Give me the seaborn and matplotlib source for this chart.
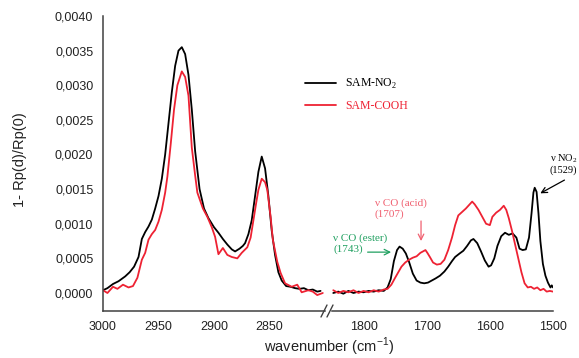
import numpy as np
import pandas as pd
import matplotlib
matplotlib.use("Agg")
import matplotlib.pyplot as plt
from matplotlib.lines import Line2D
from matplotlib.ticker import FuncFormatter, MultipleLocator
import seaborn as sns

# ---- data ----
wn_left_no2 = [3000, 2996, 2991, 2986, 2980, 2976, 2972, 2968, 2965, 2962, 2959, 2956, 2953, 2950,
               2947, 2944, 2941, 2938, 2935, 2932, 2929, 2926, 2923, 2920, 2917, 2913, 2909, 2905,
               2900, 2896, 2892, 2888, 2884, 2881, 2877, 2874, 2872, 2869, 2866, 2863, 2860, 2857,
               2854, 2851, 2848, 2845, 2842, 2839, 2835, 2831, 2827, 2823, 2819, 2815, 2811, 2807, 2804]
sig_left_no2 = [0.00004, 0.00007, 0.00013, 0.00017, 0.00024, 0.00030, 0.00038, 0.00052, 0.00078,
                0.00088, 0.00096, 0.00106, 0.00122, 0.00140, 0.00165, 0.00200, 0.00245, 0.00290,
                0.00328, 0.00350, 0.00355, 0.00345, 0.00315, 0.00265, 0.00205, 0.00150, 0.00122,
                0.00108, 0.00095, 0.00087, 0.00078, 0.00070, 0.00063, 0.00060, 0.00064, 0.00068,
                0.00072, 0.00085, 0.00105, 0.00140, 0.00175, 0.00197, 0.00180, 0.00140, 0.00090,
                0.00055, 0.00030, 0.00018, 0.00010, 0.00009, 0.00007, 0.00006, 0.00007, 0.00004,
                0.00005, 0.00002, 0.00003]

wn_left_cooh = [3000, 2996, 2991, 2987, 2982, 2977, 2973, 2969, 2965, 2962, 2959, 2956, 2953, 2950,
                2947, 2944, 2942, 2939, 2936, 2933, 2929, 2926, 2923, 2920, 2917, 2915, 2910, 2906,
                2902, 2899, 2896, 2892, 2888, 2884, 2879, 2875, 2870, 2867, 2865, 2862, 2860, 2857,
                2854, 2852, 2849, 2847, 2843, 2840, 2836, 2830, 2825, 2821, 2815, 2811, 2807, 2802]
sig_left_cooh = [0.00004, 0.00000, 0.00009, 0.00006, 0.00012, 0.00008, 0.00010, 0.00022, 0.00048,
                 0.00058, 0.00077, 0.00085, 0.00091, 0.00103, 0.00120, 0.00145, 0.00168, 0.00215,
                 0.00265, 0.00300, 0.00320, 0.00312, 0.00285, 0.00210, 0.00170, 0.00145, 0.00122,
                 0.00110, 0.00095, 0.00081, 0.00056, 0.00065, 0.00055, 0.00052, 0.00050, 0.00058,
                 0.00066, 0.00080, 0.00100, 0.00130, 0.00149, 0.00165, 0.00160, 0.00149, 0.00110,
                 0.00077, 0.00045, 0.00029, 0.00014, 0.00009, 0.00012, 0.00001, 0.00004, 0.00002,
                 -0.00003, 0.00000]

wn_right_no2 = [1848, 1840, 1832, 1824, 1816, 1808, 1800, 1792, 1784, 1776, 1768, 1762, 1757, 1752,
                1747, 1743, 1738, 1733, 1728, 1722, 1716, 1710, 1704, 1698, 1692, 1686, 1679, 1672,
                1666, 1660, 1655, 1648, 1642, 1636, 1630, 1626, 1620, 1614, 1608, 1602, 1598, 1593,
                1588, 1582, 1576, 1570, 1564, 1558, 1553, 1548, 1543, 1538, 1534, 1531, 1529, 1526,
                1523, 1520, 1516, 1512, 1508, 1504, 1502, 1500]
sig_right_no2 = [0.00000, 0.00002, -0.00001, 0.00003, 0.00000, 0.00002, 0.00001, 0.00003, 0.00002,
                 0.00004, 0.00003, 0.00008, 0.00020, 0.00046, 0.00062, 0.00067, 0.00064, 0.00057,
                 0.00045, 0.00028, 0.00018, 0.00015, 0.00014, 0.00015, 0.00018, 0.00021, 0.00025,
                 0.00031, 0.00038, 0.00046, 0.00052, 0.00057, 0.00061, 0.00068, 0.00076, 0.00078,
                 0.00072, 0.00060, 0.00047, 0.00038, 0.00040, 0.00050, 0.00068, 0.00082, 0.00087,
                 0.00084, 0.00086, 0.00080, 0.00064, 0.00062, 0.00063, 0.00080, 0.00115, 0.00145,
                 0.00152, 0.00146, 0.00115, 0.00075, 0.00042, 0.00025, 0.00015, 0.00008, 0.00011,
                 0.00008]

wn_right_cooh = [1848, 1840, 1832, 1824, 1816, 1808, 1800, 1792, 1784, 1776, 1768, 1762, 1756, 1750,
                 1745, 1740, 1734, 1728, 1722, 1716, 1710, 1706, 1702, 1699, 1695, 1690, 1684, 1678,
                 1672, 1666, 1660, 1655, 1650, 1644, 1638, 1632, 1628, 1624, 1618, 1612, 1606, 1600,
                 1596, 1590, 1584, 1578, 1574, 1570, 1565, 1560, 1555, 1550, 1545, 1540, 1535, 1530,
                 1525, 1520, 1515, 1510, 1505, 1500]
sig_right_cooh = [0.00004, 0.00000, 0.00003, 0.00001, 0.00004, 0.00000, 0.00003, 0.00001, 0.00004,
                  0.00002, 0.00005, 0.00006, 0.00012, 0.00022, 0.00030, 0.00038, 0.00044, 0.00048,
                  0.00051, 0.00053, 0.00058, 0.00060, 0.00062, 0.00058, 0.00052, 0.00044, 0.00041,
                  0.00042, 0.00048, 0.00062, 0.00080, 0.00098, 0.00112, 0.00117, 0.00122, 0.00128,
                  0.00132, 0.00128, 0.00120, 0.00110, 0.00100, 0.00098, 0.00110, 0.00116, 0.00120,
                  0.00126, 0.00120, 0.00108, 0.00090, 0.00070, 0.00050, 0.00030, 0.00014, 0.00008,
                  0.00009, 0.00006, 0.00008, 0.00004, 0.00006, 0.00002, 0.00003, 0.00002]

samples = ["SAM-NO2", "SAM-COOH"]
legend_labels = ["SAM-NO$_\\mathregular{2}$", "SAM-COOH"]
colors = {"SAM-NO2": "#000000", "SAM-COOH": "#ee2233"}

left = pd.concat([
    pd.DataFrame({"wavenumber": wn_left_no2, "signal": sig_left_no2, "sample": "SAM-NO2"}),
    pd.DataFrame({"wavenumber": wn_left_cooh, "signal": sig_left_cooh, "sample": "SAM-COOH"}),
])
right = pd.concat([
    pd.DataFrame({"wavenumber": wn_right_no2, "signal": sig_right_no2, "sample": "SAM-NO2"}),
    pd.DataFrame({"wavenumber": wn_right_cooh, "signal": sig_right_cooh, "sample": "SAM-COOH"}),
])

sns.set_style("white")
plt.rcParams["font.family"] = ["Liberation Sans", "DejaVu Sans"]
serif = ["Liberation Serif", "DejaVu Serif"]

fig = plt.figure(figsize=(5.79, 3.58), dpi=100)
W, H = 579, 358
bot, top = 1 - 311 / H, 1 - 16 / H
ax1 = fig.add_axes([103 / W, bot, (325 - 103) / W, top - bot])
ax2 = fig.add_axes([332 / W, bot, (553 - 332) / W, top - bot], sharey=ax1)

for ax, d in [(ax1, left), (ax2, right)]:
    sns.lineplot(data=d, x="wavenumber", y="signal", hue="sample", hue_order=samples,
                 palette=colors, estimator=None, sort=False, lw=1.3, legend=False, ax=ax)
    ax.set_xlabel("")
    ax.set_ylabel("")
    for s in ["top", "right"]:
        ax.spines[s].set_visible(False)
    for s in ["left", "bottom"]:
        ax.spines[s].set_linewidth(1.1)
        ax.spines[s].set_color("#404040")
    ax.tick_params(which="major", direction="out", length=4, width=1, color="#404040",
                   labelsize=9, pad=3, labelcolor="#222222")
    ax.tick_params(which="minor", direction="out", length=2.5, width=1, color="#404040")

ax1.set_xlim(3000, 2800)
ax2.set_xlim(1850, 1500)
ax1.set_ylim(-0.00026, 0.0040)
ax1.set_xticks([3000, 2950, 2900, 2850])
ax1.xaxis.set_minor_locator(MultipleLocator(25))
ax2.set_xticks([1800, 1700, 1600, 1500])
ax2.xaxis.set_minor_locator(MultipleLocator(50))
ax1.set_yticks(np.arange(0, 0.00401, 0.0005))
ax1.yaxis.set_minor_locator(MultipleLocator(0.00025))
ax1.yaxis.set_major_formatter(FuncFormatter(lambda v, p: f"{v:.4f}".replace(".", ",")))
ax2.spines["left"].set_visible(False)
ax2.tick_params(axis="y", which="both", left=False, labelleft=False)

# axis break marks
for x0 in (321, 327):
    fig.add_artist(Line2D([x0 / W, (x0 + 6) / W], [1 - 317 / H, 1 - 305 / H],
                          color="#404040", lw=1))

fig.text(20 / W, 1 - 160 / H, "1- Rp(d)/Rp(0)", rotation=90, ha="center", va="center",
         fontsize=10.5, color="#222222")
fig.text(329 / W, 1 - 347 / H, "wavenumber (cm$^{\\mathregular{-1}}$)", ha="center",
         va="center", fontsize=10.5, color="#222222")

# legend
handles = [Line2D([], [], color=colors[s], lw=1.3) for s in samples]
leg = fig.legend(handles, legend_labels, loc="upper left", bbox_to_anchor=(299 / W, 1 - 71 / H),
                 frameon=False, handlelength=2.6, handletextpad=0.8, labelspacing=0.75,
                 borderpad=0, prop={"family": serif, "size": 8.5})
for t, s in zip(leg.get_texts(), samples):
    t.set_color(colors[s])

# band annotations
ann_red = "#f06070"
ann_green = "#20a060"
ax2.text(1782, 0.00122, "\u03bd CO (acid)\n(1707)", color=ann_red, fontfamily=serif,
         fontsize=8, ha="left", va="center", linespacing=1.15)
ax2.annotate("", xy=(1709, 0.00071), xytext=(1709, 0.00108),
             arrowprops=dict(arrowstyle="->", color=ann_red, lw=0.9))
ax2.text(1848, 0.000715, "\u03bd CO (ester)\n(1743)", color=ann_green, fontfamily=serif,
         fontsize=8, ha="left", va="center", linespacing=1.15)
ax2.annotate("", xy=(1752, 0.00059), xytext=(1798, 0.00059),
             arrowprops=dict(arrowstyle="->", color=ann_green, lw=0.9))
ax2.text(1505, 0.00187, "\u03bd NO$_\\mathregular{2}$\n(1529)", color="#000000", fontfamily=serif,
         fontsize=7.5, ha="left", va="center", linespacing=1.15, clip_on=False)
ax2.annotate("", xy=(1524, 0.00142), xytext=(1478, 0.00165), annotation_clip=False,
             arrowprops=dict(arrowstyle="->", color="#000000", lw=0.9))

fig.savefig("out.png", dpi=100)
